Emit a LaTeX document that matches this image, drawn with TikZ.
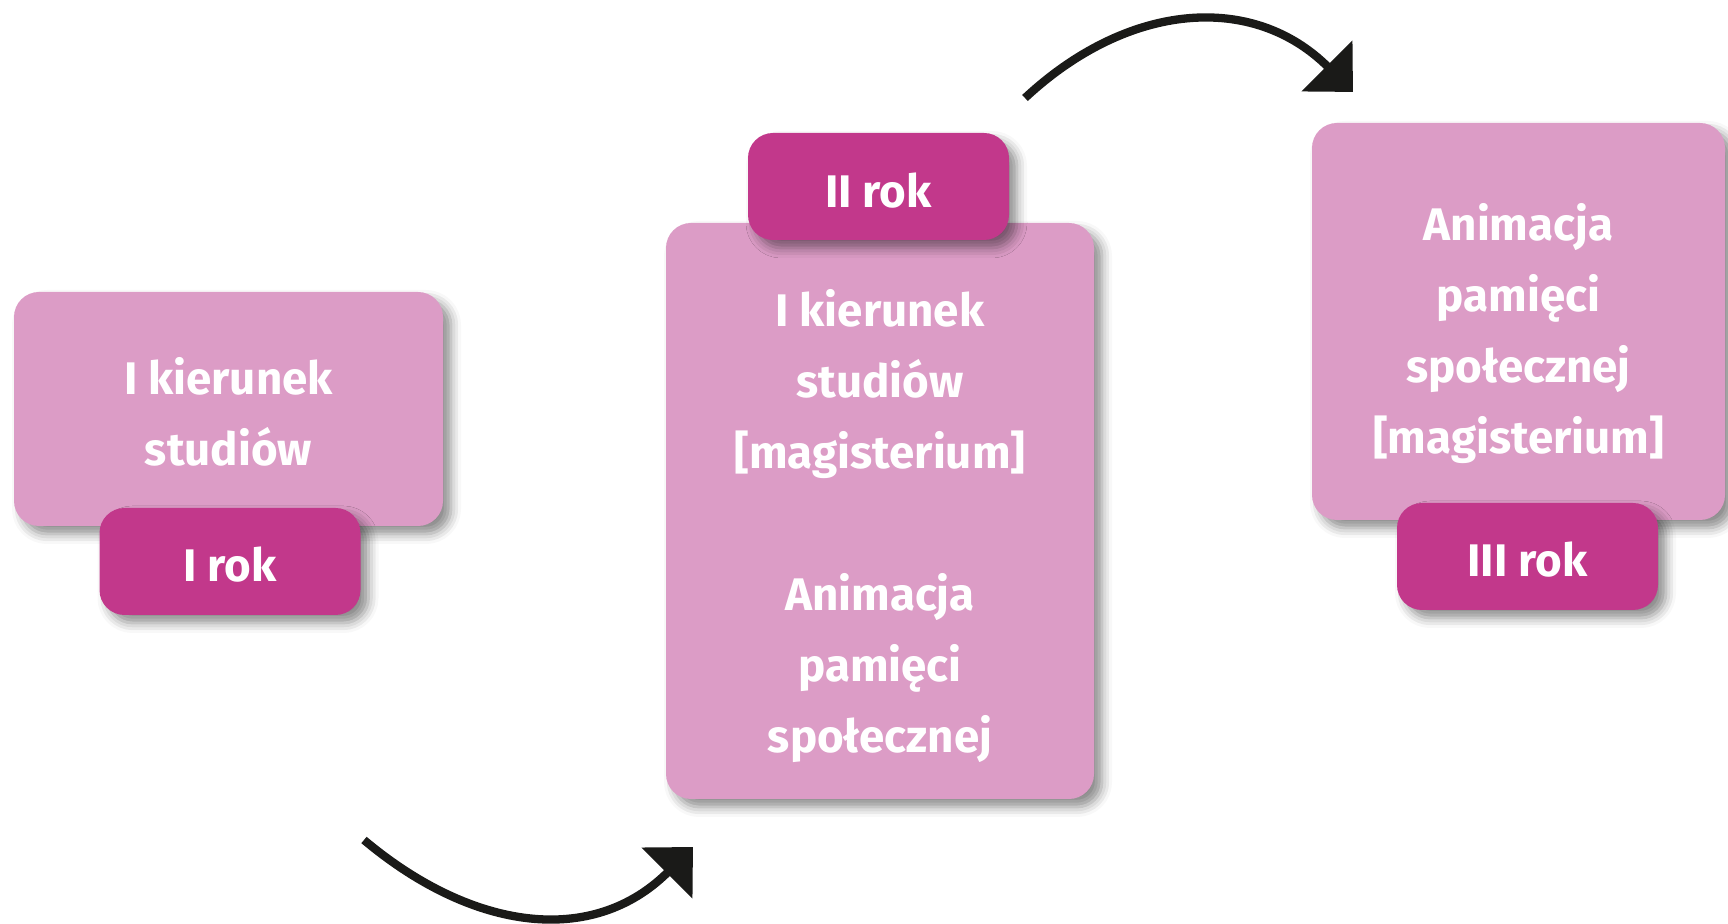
\documentclass[tikz,border=0pt]{standalone}
\usepackage{fontspec}
\setmainfont{Fira Sans}
\usetikzlibrary{arrows.meta,shadows.blur}
\definecolor{lightpink}{HTML}{DC9CC6}
\definecolor{darkpink}{HTML}{C2388B}
\definecolor{arrowblack}{HTML}{1A1A18}
\newcommand{\odstep}[1]{\rule{0pt}{#1}}
\begin{document}
\begin{tikzpicture}[
	mainbox/.style={fill=lightpink, rounded corners=0.25cm, text=white, align=center,
		font=\fontsize{13}{20.2}\selectfont\bfseries,
		blur shadow={shadow xshift=0.08cm, shadow yshift=-0.08cm, shadow blur radius=0.1cm, shadow opacity=45}},
	yearbox/.style={mainbox, fill=darkpink, minimum width=2.61cm, minimum height=1.07cm},
	arr/.style={draw=arrowblack, line width=2.36pt, -{Triangle[length=10.5pt, width=20pt]}, looseness=1.1}]
		\useasboundingbox (0,0) rectangle (17.28,9.24);
		% pierwszy rok
		\node[mainbox, minimum width=4.29cm, minimum height=2.34cm] (kier1) at (2.285,5.15)
			{\odstep{12.3pt}I kierunek\\studiów};
		\node[yearbox] (rok1) at (2.30,3.625) {\odstep{11.8pt}I rok};
		
		% drugi rok
		\node[mainbox, minimum width=4.28cm, minimum height=5.76cm] (kier2) at (8.80,4.13)
			{\odstep{19.1pt}I kierunek\\studiów\\{[magisterium]}\\[20.2pt]Animacja\\pamięci\\społecznej};
		\node[yearbox] (rok2) at (8.785,7.375) {\odstep{12pt}II rok};
		
		% trzeci rok
		\node[mainbox, minimum width=4.13cm, minimum height=3.97cm] (kier3) at (15.185,6.025)
			{\odstep{17.3pt}Animacja\\pamięci\\społecznej\\{[magisterium]}};
		\node[yearbox] (rok3) at (15.275,3.675) {\odstep{11.8pt}III rok};
		
		% strzalki
		\coordinate (s1) at (3.64,0.84);
		\coordinate (e1) at (6.93,0.77);
		\coordinate (s2) at (10.25,8.26);
		\coordinate (e2) at (13.53,8.32);
		\draw[arr] (s1) to[out=-40, in=225] (e1);
		\draw[arr] (s2) to[out=43, in=135] (e2);
\end{tikzpicture}
\end{document}
